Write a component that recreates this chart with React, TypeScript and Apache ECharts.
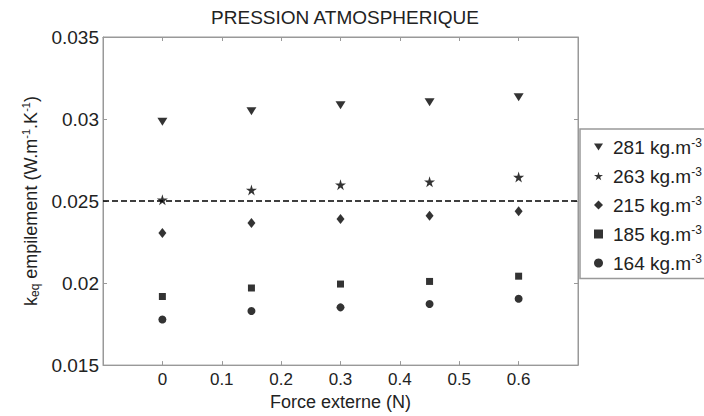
import React, { useEffect, useRef } from "react";
import * as echarts from "echarts";

const xValues = [0, 0.15, 0.3, 0.45, 0.6];
const seriesNames = ["281", "263", "215", "185", "164"];
const s281 = [0.02984, 0.03048, 0.03084, 0.03102, 0.03132];
const s263 = [0.02508, 0.02568, 0.026, 0.02618, 0.02646];
const s215 = [0.02306, 0.02366, 0.0239, 0.0241, 0.02438];
const s185 = [0.01918, 0.0197, 0.01994, 0.0201, 0.02042];
const s164 = [0.01778, 0.0183, 0.01852, 0.01872, 0.01904];
const refLineX = [-0.1, 0.7];
const refLineY = 0.025;

const TRI = "path://M0,0 L10,0 L5,8 Z";
const STAR =
  "path://M50,0 L61,35 L98,35 L68,57 L79,91 L50,70 L21,91 L32,57 L2,35 L39,35 Z";

const FONT = "Liberation Sans";

export default function App() {
  const ref = useRef<HTMLDivElement>(null);
  useEffect(() => {
    if (!ref.current) return;
    const chart = echarts.init(ref.current, undefined, { renderer: "svg" });
    const all = [s281, s263, s215, s185, s164];
    const symbols = [TRI, STAR, "diamond", "rect", "circle"];
    const sizes: any[] = [[10, 8], 11, [8, 10], 7, 8];
    const scatter = all.map((arr, i) => ({
      name: seriesNames[i],
      type: "scatter",
      symbol: symbols[i],
      symbolSize: sizes[i],
      itemStyle: { color: "#000" },
      data: xValues.map((x, j) => [x, arr[j]]),
      z: 3,
    }));
    const axisColor = "#999";
    const line = { onZero: false, lineStyle: { color: axisColor } };
    const tick = { inside: true, length: 4, lineStyle: { color: axisColor } };
    chart.setOption({
      animation: false,
      title: {
        text: "PRESSION ATMOSPHERIQUE",
        left: 340,
        textAlign: "center",
        top: 3,
        textStyle: { fontFamily: FONT, fontSize: 19, fontWeight: "normal", color: "#222" },
      },
      grid: { left: 103, right: 126, top: 37, bottom: 46, show: true, borderColor: axisColor, borderWidth: 1 },
      legend: {
        orient: "vertical",
        left: 580,
        top: 129,
        padding: [8, 60, 6, 14],
        itemGap: 9.5,
        itemWidth: 9,
        itemHeight: 9,
        borderColor: axisColor,
        borderWidth: 1.5,
        backgroundColor: "#fff",
        data: seriesNames.map((n, i) => ({ name: n, icon: symbols[i] })),
        formatter: (n: string) => `{n|${n} kg.m}{sup|-3}`,
        textStyle: {
          fontFamily: FONT,
          color: "#222",
          padding: [0, 0, 0, 5],
          rich: {
            n: { fontFamily: FONT, fontSize: 19, lineHeight: 20, color: "#222" },
            sup: { fontFamily: FONT, fontSize: 12, lineHeight: 12, verticalAlign: "top", color: "#222" },
          },
        },
      },
      xAxis: [
        {
          type: "value",
          min: -0.1,
          max: 0.7,
          interval: 0.1,
          name: "Force externe (N)",
          nameLocation: "middle",
          nameGap: 24,
          nameTextStyle: { fontFamily: FONT, fontSize: 18, color: "#222" },
          axisLine: line,
          axisTick: tick,
          axisLabel: {
            fontFamily: FONT,
            fontSize: 17,
            color: "#222",
            margin: 6,
            formatter: (v: number) => (v < -0.05 || v > 0.65 ? "" : String(+v.toFixed(2))),
          },
          splitLine: { show: false },
        },
        {
          type: "value",
          position: "top",
          min: -0.1,
          max: 0.7,
          interval: 0.1,
          axisLine: line,
          axisTick: tick,
          axisLabel: { show: false },
          splitLine: { show: false },
        },
      ],
      yAxis: [
        {
          type: "value",
          min: 0.015,
          max: 0.035,
          interval: 0.005,
          name: "{n|k}{sub|eq}{n| empilement (W.m}{sup|-1}{n|.K}{sup|-1}{n|)}",
          nameLocation: "middle",
          nameGap: 58,
          nameTextStyle: {
            fontFamily: FONT,
            color: "#222",
            rich: {
              n: { fontFamily: FONT, fontSize: 18, lineHeight: 20, color: "#222" },
              sub: { fontFamily: FONT, fontSize: 12, lineHeight: 12, verticalAlign: "bottom", color: "#222" },
              sup: { fontFamily: FONT, fontSize: 11, lineHeight: 11, verticalAlign: "top", color: "#222" },
            },
          },
          axisLine: line,
          axisTick: tick,
          axisLabel: {
            fontFamily: FONT,
            fontSize: 19,
            color: "#222",
            margin: 4,
            formatter: (v: number) => String(+v.toFixed(3)),
          },
          splitLine: { show: false },
        },
        {
          type: "value",
          position: "right",
          min: 0.015,
          max: 0.035,
          interval: 0.005,
          axisLine: line,
          axisTick: tick,
          axisLabel: { show: false },
          splitLine: { show: false },
        },
      ],
      series: [
        {
          name: "ref",
          type: "line",
          symbol: "none",
          data: refLineX.map((x) => [x, refLineY]),
          lineStyle: { color: "#000", width: 1.5, type: [6, 3] },
          z: 2,
        },
        ...scatter,
      ],
    });
    return () => chart.dispose();
  }, []);
  return <div ref={ref} style={{ width: 704, height: 416, position: "absolute", left: 0, top: 0 }} />;
}
